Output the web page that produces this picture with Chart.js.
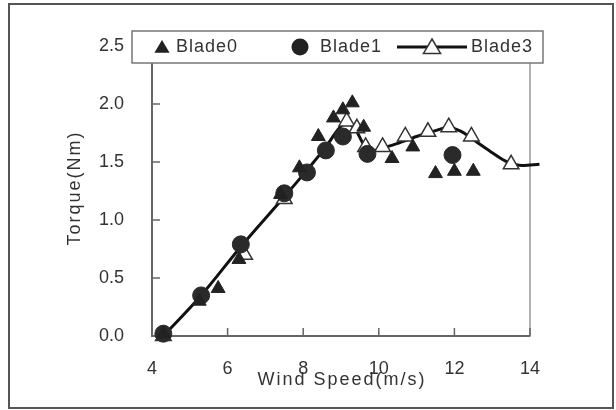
<!DOCTYPE html>
<html>
<head>
<meta charset="utf-8">
<script src="https://cdn.jsdelivr.net/npm/chart.js@4.4.1/dist/chart.umd.min.js"></script>
<style>
  html, body { margin: 0; padding: 0; background: #fff; }
  #wrap { width: 616px; height: 410px; }
</style>
</head>
<body>
<div id="wrap"><canvas id="chart" width="616" height="410"></canvas></div>
<script>
// ================= DATA =================
const xTicks = [4, 6, 8, 10, 12, 14];
const yTicks = [0, 0.5, 1.0, 1.5, 2.0, 2.5];

const blade0X = [4.3, 5.25, 5.75, 6.3, 7.4, 7.9, 8.4, 8.8, 9.05, 9.3, 9.6, 10.35, 10.9, 11.5, 12.0, 12.5];
const blade0Y = [0.02, 0.30, 0.41, 0.66, 1.22, 1.45, 1.72, 1.88, 1.95, 2.01, 1.80, 1.53, 1.63, 1.40, 1.42, 1.42];

const blade1X = [4.3, 5.3, 6.35, 7.5, 8.1, 8.6, 9.05, 9.7, 11.95];
const blade1Y = [0.02, 0.35, 0.79, 1.23, 1.41, 1.60, 1.72, 1.57, 1.56];

const blade3X = [4.3, 6.45, 7.5, 9.15, 9.42, 9.65, 10.1, 10.7, 11.3, 11.85, 12.45, 13.5];
const blade3Y = [0.0, 0.70, 1.18, 1.85, 1.79, 1.63, 1.63, 1.72, 1.76, 1.80, 1.72, 1.48];

// smooth trend line for Blade3
const curveX = [4.3, 5.3, 6.35, 7.5, 8.1, 8.6, 8.95, 9.15, 9.4, 9.6, 9.8, 10.0, 10.5, 11.0, 11.5, 11.85, 12.2, 12.6, 13.0, 13.4, 13.8, 14.25];
const curveY = [0.0, 0.35, 0.77, 1.20, 1.43, 1.63, 1.79, 1.84, 1.77, 1.65, 1.59, 1.61, 1.66, 1.72, 1.77, 1.80, 1.76, 1.67, 1.58, 1.50, 1.47, 1.48];

const toPoints = (xs, ys) => xs.map((x, i) => ({ x: x, y: ys[i] }));

// ================= PLUGINS =================
function triPath(ctx, x, y, r) {
  ctx.beginPath();
  ctx.moveTo(x, y - r);
  ctx.lineTo(x + r * 0.95, y + r * 0.6);
  ctx.lineTo(x - r * 0.95, y + r * 0.6);
  ctx.closePath();
}

const framePlugin = {
  id: "frame",
  beforeDatasetsDraw(chart) {
    const { ctx, chartArea: a, scales } = chart;
    ctx.save();
    // plot frame
    ctx.strokeStyle = "#999";
    ctx.lineWidth = 1.5;
    ctx.strokeRect(a.left, a.top, a.right - a.left, a.bottom - a.top);
    ctx.strokeStyle = "#666";
    ctx.lineWidth = 2;
    ctx.beginPath();
    ctx.moveTo(a.left, a.top);
    ctx.lineTo(a.left, a.bottom);
    ctx.lineTo(a.right, a.bottom);
    ctx.stroke();
    // inward ticks
    ctx.lineWidth = 1.5;
    ctx.beginPath();
    xTicks.forEach(v => {
      const px = scales.x.getPixelForValue(v);
      ctx.moveTo(px, a.bottom);
      ctx.lineTo(px, a.bottom - 8);
    });
    yTicks.forEach(v => {
      const py = scales.y.getPixelForValue(v);
      ctx.moveTo(a.left, py);
      ctx.lineTo(a.left + 8, py);
    });
    ctx.stroke();
    ctx.restore();
  },
  afterDraw(chart) {
    const { ctx } = chart;
    ctx.save();
    // outer frame
    ctx.strokeStyle = "#555";
    ctx.lineWidth = 2;
    ctx.strokeRect(9, 4, 604, 404);

    // axis titles
    ctx.fillStyle = "#333";
    ctx.font = "18px 'Liberation Sans', Arial, sans-serif";
    ctx.letterSpacing = "2px";
    ctx.textAlign = "center";
    ctx.textBaseline = "middle";
    ctx.fillText("Wind Speed(m/s)", 342, 380);
    ctx.save();
    ctx.translate(75, 188);
    ctx.rotate(-Math.PI / 2);
    ctx.fillText("Torque(Nm)", 0, 0);
    ctx.restore();

    // legend box
    ctx.fillStyle = "#fff";
    ctx.fillRect(132, 31, 411, 32);
    ctx.strokeStyle = "#777";
    ctx.lineWidth = 1.5;
    ctx.strokeRect(132, 31, 411, 32);

    const ly = 47;
    ctx.fillStyle = "#222";
    triPath(ctx, 162, ly + 1, 8);
    ctx.fill();
    ctx.beginPath();
    ctx.arc(300, ly, 8.5, 0, Math.PI * 2);
    ctx.fill();

    ctx.strokeStyle = "#111";
    ctx.lineWidth = 3;
    ctx.beginPath();
    ctx.moveTo(397, ly);
    ctx.lineTo(467, ly);
    ctx.stroke();
    ctx.fillStyle = "#fff";
    ctx.strokeStyle = "#333";
    ctx.lineWidth = 1.5;
    triPath(ctx, 432, ly + 1, 9);
    ctx.fill();
    ctx.stroke();

    ctx.fillStyle = "#333";
    ctx.letterSpacing = "1px";
    ctx.textAlign = "left";
    ctx.fillText("Blade0", 176, ly);
    ctx.fillText("Blade1", 320, ly);
    ctx.fillText("Blade3", 471, ly);
    ctx.restore();
  }
};

// ================= CHART =================
const tickFont = { family: "'Liberation Sans', Arial, sans-serif", size: 18 };

new Chart(document.getElementById("chart"), {
  type: "scatter",
  data: {
    datasets: [
      {
        label: "Blade0",
        data: toPoints(blade0X, blade0Y),
        pointStyle: "triangle",
        pointRadius: 8,
        backgroundColor: "#222",
        borderColor: "#222",
        borderWidth: 1,
        clip: false,
        order: 1
      },
      {
        label: "Blade1",
        data: toPoints(blade1X, blade1Y),
        pointStyle: "circle",
        pointRadius: 8.5,
        backgroundColor: "#2a2a2a",
        borderColor: "#2a2a2a",
        borderWidth: 1,
        clip: false,
        order: 2
      },
      {
        label: "Blade3",
        data: toPoints(blade3X, blade3Y),
        pointStyle: "triangle",
        pointRadius: 9,
        backgroundColor: "#fff",
        borderColor: "#333",
        borderWidth: 1.5,
        clip: false,
        order: 3
      },
      {
        label: "Blade3 fit",
        data: toPoints(curveX, curveY),
        showLine: true,
        borderColor: "#111",
        borderWidth: 3,
        pointRadius: 0,
        tension: 0.4,
        cubicInterpolationMode: "monotone",
        clip: false,
        order: 10
      }
    ]
  },
  options: {
    responsive: false,
    animation: false,
    devicePixelRatio: 1,
    layout: { padding: { left: 0, top: 46, right: 86, bottom: 0 } },
    plugins: { legend: { display: false }, tooltip: { enabled: false } },
    scales: {
      x: {
        type: "linear",
        min: 4,
        max: 14,
        afterBuildTicks: s => { s.ticks = xTicks.map(v => ({ value: v })); },
        afterFit: s => { s.height = 74; },
        grid: { display: false, drawTicks: false },
        border: { display: false },
        ticks: { font: tickFont, color: "#333", padding: 22, maxRotation: 0 }
      },
      y: {
        min: 0,
        max: 2.5,
        afterBuildTicks: s => { s.ticks = yTicks.map(v => ({ value: v })); },
        afterFit: s => { s.width = 152; },
        grid: { display: false, drawTicks: false },
        border: { display: false },
        ticks: { font: tickFont, color: "#333", padding: 28, callback: v => v.toFixed(1) }
      }
    }
  },
  plugins: [framePlugin]
});
</script>
</body>
</html>
